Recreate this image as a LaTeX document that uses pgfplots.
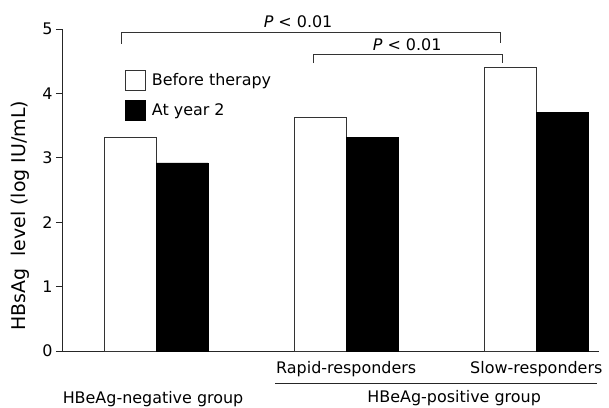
\documentclass[border=0pt]{standalone}
\usepackage{pgfplots}
\pgfplotsset{compat=1.18}
\usepackage{fontspec}
\setmainfont{DejaVu Sans}
\begin{document}
\begin{tikzpicture}
\useasboundingbox (-62bp,-57bp) rectangle (547bp,351bp);
\begin{axis}[
  at={(0,0)}, anchor=south west,
  scale only axis, width=537bp, height=322bp,
  xmin=-0.495, xmax=2.33, ymin=0, ymax=5,
  axis x line*=bottom, axis y line*=left,
  axis line style={draw=black!85, line width=0.7pt},
  xtick=\empty, ytick={0,1,2,3,4,5},
  tick align=outside, major tick length=6bp,
  tick style={draw=black!85, line width=0.7pt},
  /pgf/number format/assume math mode=true,
  tick label style={font=\fontsize{16}{18}\selectfont},
  ylabel={HBsAg\ \ level (log IU/mL)},
  every axis y label/.style={at={(axis description cs:-0.078,0.42)}, rotate=90, anchor=center, font=\fontsize{19}{21}\selectfont},
  ybar=0pt, bar width=52bp,
  clip=false,
  legend style={at={(axis cs:-0.163,4.363)}, anchor=north west, draw=none, fill=none,
    inner sep=0pt, row sep=9bp, column sep=4bp, font=\fontsize{16}{18}\selectfont, cells={anchor=west}},
  legend image code/.code={\draw[#1] (0bp,-10bp) rectangle (20bp,10bp);},
]
\addplot[fill=white, draw=black!80, line width=0.6pt] coordinates {(0,3.32) (1,3.63) (2,4.41)};
\addplot[fill=black, draw=black, line width=0.6pt] coordinates {(0,2.92) (1,3.32) (2,3.71)};
\legend{Before therapy, At year 2}
% significance brackets
\draw[black!80, line width=0.6pt] (axis cs:-0.184,4.77) -- (axis cs:-0.184,4.95) -- (axis cs:1.811,4.95) -- (axis cs:1.811,4.79);
\node[anchor=base, font=\fontsize{16}{18}\selectfont, inner sep=0pt] at (axis cs:0.747,5.03) {\textit{P} < 0.01};
\draw[black!80, line width=0.6pt] (axis cs:0.826,4.47) -- (axis cs:0.826,4.61) -- (axis cs:1.821,4.61) -- (axis cs:1.821,4.47);
\node[anchor=base, font=\fontsize{16}{18}\selectfont, inner sep=0pt] at (axis cs:1.321,4.66) {\textit{P} < 0.01};
% category labels
\node[anchor=base, font=\fontsize{16}{18}\selectfont, inner sep=0pt] at (axis cs:1,-0.342) {Rapid-responders};
\node[anchor=base, font=\fontsize{16}{18}\selectfont, inner sep=0pt] at (axis cs:2,-0.342) {Slow-responders};
\draw[black!85, line width=0.7pt] (axis cs:0.626,-0.497) -- (axis cs:2.32,-0.497);
\node[anchor=base, font=\fontsize{16}{18}\selectfont, inner sep=0pt] at (axis cs:1.568,-0.807) {HBeAg-positive group};
\node[anchor=base, font=\fontsize{16}{18}\selectfont, inner sep=0pt] at (axis cs:-0.016,-0.82) {HBeAg-negative group};
\end{axis}
\end{tikzpicture}
\end{document}
